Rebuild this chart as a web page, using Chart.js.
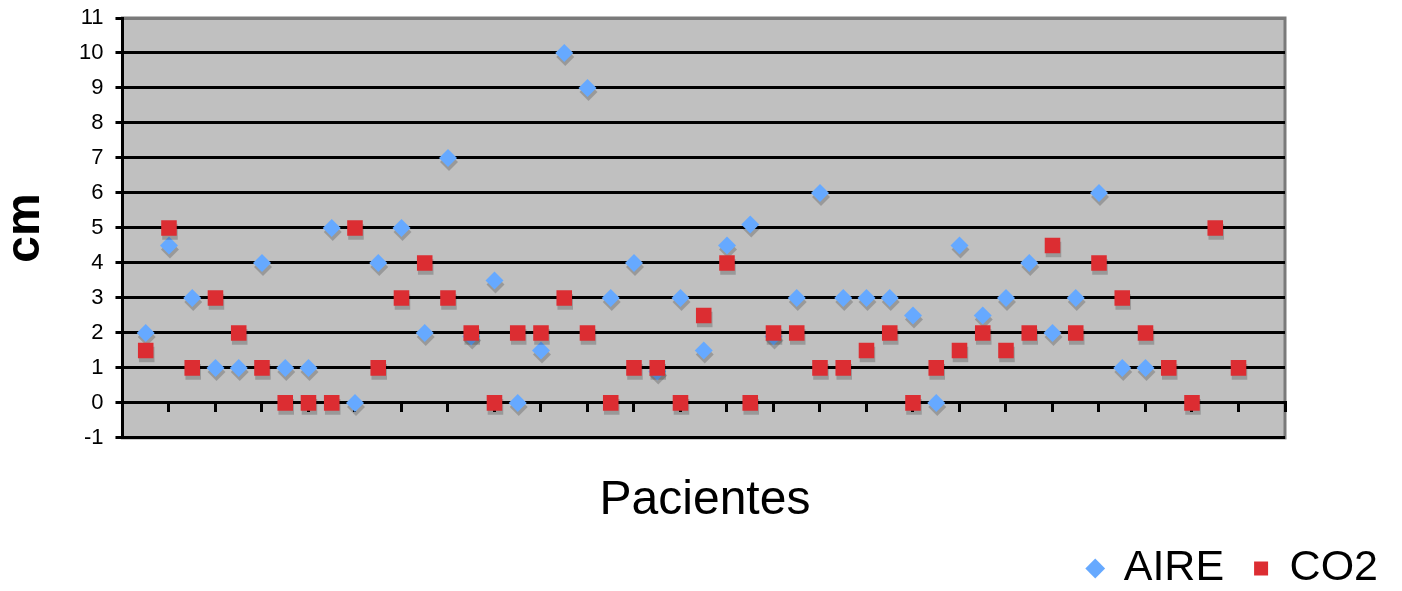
<!DOCTYPE html>
<html>
<head>
<meta charset="utf-8">
<script src="https://cdn.jsdelivr.net/npm/chart.js@4.4.0/dist/chart.umd.min.js"></script>
<style>
  html, body { margin: 0; padding: 0; background: #fff; overflow: hidden; }
  #marco { width: 1402px; height: 591px; overflow: hidden; }
  #wrap { width: 1408px; height: 600px; position: relative; }
</style>
</head>
<body>
<div id="marco"><div id="wrap"><canvas id="grafico"></canvas></div></div>
<script>
// Datos
const pacientes = [1, 2, 3, 4, 5, 6, 7, 8, 9, 10, 11, 12, 13, 14, 15, 16, 17, 18, 19, 20,
                   21, 22, 23, 24, 25, 26, 27, 28, 29, 30, 31, 32, 33, 34, 35, 36, 37, 38, 39, 40,
                   41, 42, 43, 44, 45, 46, 47, 48];
const aire = [2, 4.5, 3, 1, 1, 4, 1, 1, 5, 0, 4, 5, 2, 7, 1.9, 3.5, 0, 1.5, 10, 9,
              3, 4, 0.9, 3, 1.5, 4.5, 5.1, 1.9, 3, 6, 3, 3, 3, 2.5, 0, 4.5, 2.5, 3, 4, 2,
              3, 6, 1, 1, null, null, null, null];
const co2 = [1.5, 5, 1, 3, 2, 1, 0, 0, 0, 5, 1, 3, 4, 3, 2, 0, 2, 2, 3, 2,
             0, 1, 1, 0, 2.5, 4, 0, 2, 2, 1, 1, 1.5, 2, 0, 1, 1.5, 2, 1.5, 2, 4.5,
             2, 4, 3, 2, 1, 0, 5, 1];
const yTicks = [-1, 0, 1, 2, 3, 4, 5, 6, 7, 8, 9, 10, 11];

const FUENTE = "'Liberation Sans', Arial, sans-serif";

// Fondo gris del área de trazado
const fondoPlugin = {
    id: 'fondo',
    beforeDraw(chart) {
        const { ctx, chartArea: a } = chart;
        ctx.save();
        ctx.fillStyle = '#c0c0c0';
        ctx.fillRect(a.left, a.top, a.right - a.left, a.bottom - a.top);
        ctx.strokeStyle = '#7a7a7a';
        ctx.lineWidth = 3;
        ctx.strokeRect(a.left, a.top, a.right - a.left, a.bottom - a.top);
        ctx.restore();
    }
};

// Sombra de los marcadores
const sombraPlugin = {
    id: 'sombra',
    beforeDatasetDraw(chart) {
        const ctx = chart.ctx;
        ctx.save();
        ctx.shadowColor = 'rgba(0, 0, 0, 0.2)';
        ctx.shadowOffsetX = 1;
        ctx.shadowOffsetY = 4;
        ctx.shadowBlur = 0;
    },
    afterDatasetDraw(chart) {
        chart.ctx.restore();
    }
};

const ctx = document.getElementById('grafico').getContext('2d');
new Chart(ctx, {
    type: 'scatter',
    data: {
        datasets: [
            {
                label: 'AIRE',
                data: pacientes.map((p, i) => ({ x: p, y: aire[i] })),
                pointStyle: 'rectRot',
                pointRadius: 9,
                pointBorderWidth: 0,
                backgroundColor: '#66a9ff',
                borderColor: '#66a9ff',
                order: 1
            },
            {
                label: 'CO2',
                data: pacientes.map((p, i) => ({ x: p, y: co2[i] })),
                pointStyle: 'rect',
                pointRadius: 11,
                pointBorderWidth: 0,
                backgroundColor: '#dc2d32',
                borderColor: '#dc2d32',
                order: 0
            }
        ]
    },
    options: {
        responsive: true,
        maintainAspectRatio: false,
        animation: false,
        events: [],
        layout: { padding: { left: 2, right: 0, top: 0, bottom: 0 } },
        scales: {
            x: {
                type: 'linear',
                min: 0,
                max: 50,
                position: { y: 0 },
                ticks: { stepSize: 2, display: false },
                grid: { drawOnChartArea: false, drawTicks: true, tickLength: 8, color: '#000', lineWidth: 3 },
                border: { display: true, color: '#000', width: 3 }
            },
            y: {
                min: yTicks[0],
                max: yTicks[yTicks.length - 1],
                afterBuildTicks(scale) { scale.ticks = yTicks.map(v => ({ value: v })); },
                afterFit(scale) { scale.paddingTop = 18; scale.paddingBottom = 14; },
                ticks: { color: '#000', font: { family: FUENTE, size: 22 }, padding: 12 },
                grid: {
                    color: c => (c.tick && c.tick.value === 11 ? '#7a7a7a' : '#000'),
                    tickColor: '#000',
                    lineWidth: 3,
                    tickLength: 7
                },
                border: { color: '#000', width: 3 },
                title: {
                    display: true,
                    text: 'cm',
                    color: '#000',
                    font: { family: FUENTE, size: 48, weight: 'bold', lineHeight: 1 },
                    padding: { top: 0, bottom: 17 }
                }
            },
            derecha: {
                position: 'right',
                display: true,
                ticks: { display: false },
                grid: { display: false },
                border: { display: false },
                afterFit(scale) { scale.width = 123; }
            }
        },
        plugins: {
            tooltip: { enabled: false },
            title: {
                display: true,
                position: 'bottom',
                text: 'Pacientes',
                color: '#000',
                font: { family: FUENTE, size: 48, weight: 'normal', lineHeight: 0.69 },
                padding: { top: 46, bottom: 0 },
                weight: 500
            },
            legend: {
                position: 'bottom',
                align: 'end',
                labels: {
                    usePointStyle: true,
                    boxWidth: 14,
                    boxHeight: 14,
                    color: '#000',
                    font: { family: FUENTE, size: 43 },
                    padding: 30,
                    sort: (a, b) => a.datasetIndex - b.datasetIndex
                }
            }
        }
    },
    plugins: [fondoPlugin, sombraPlugin]
});
</script>
</body>
</html>
